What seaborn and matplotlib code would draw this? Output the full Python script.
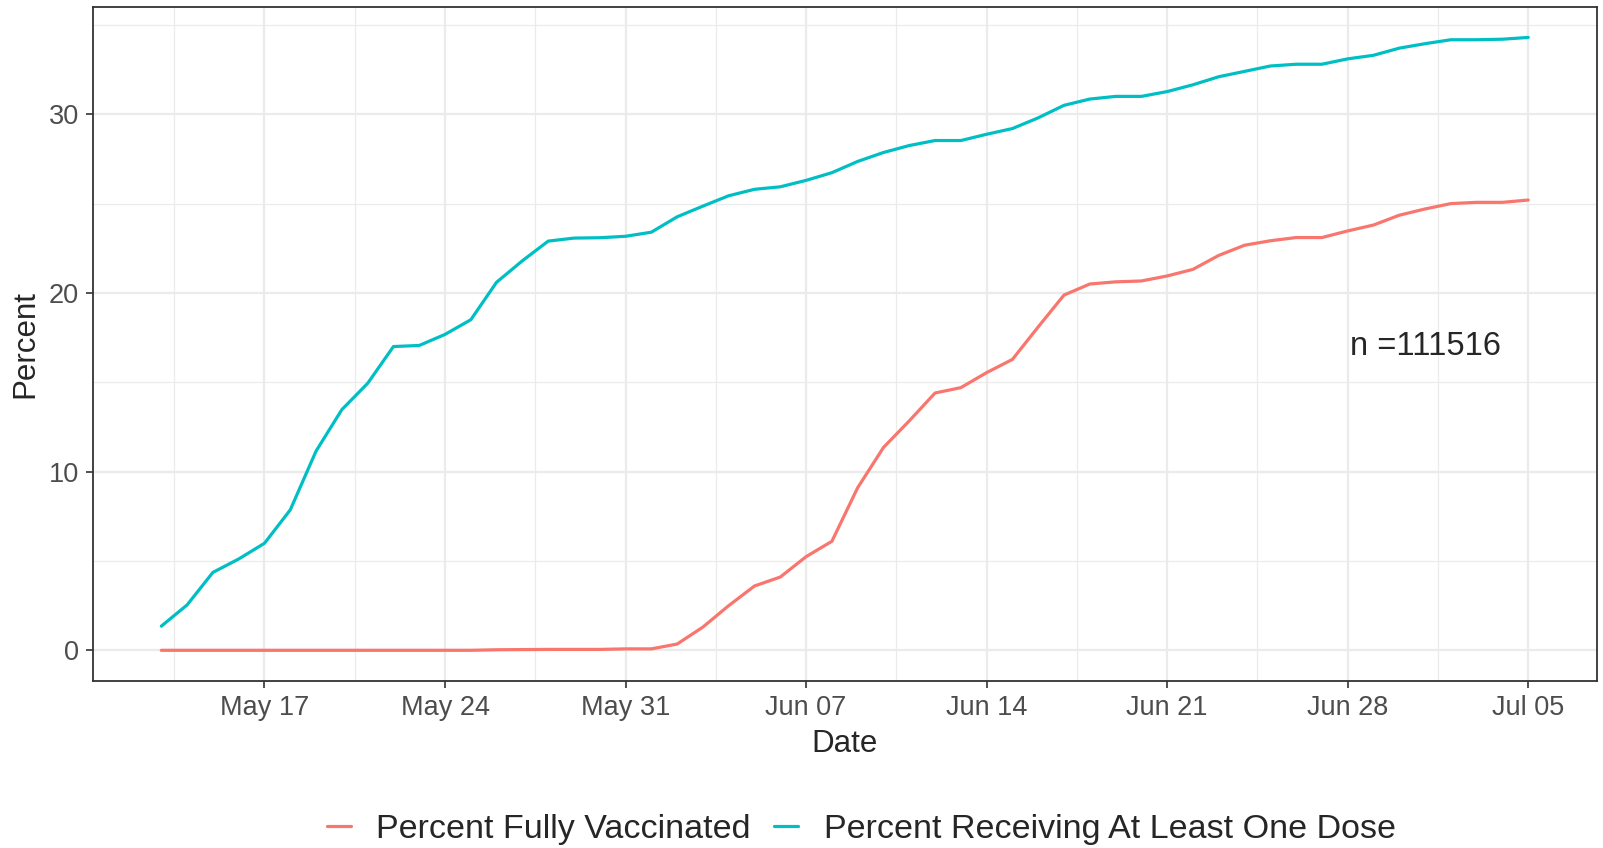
import pandas as pd
import numpy as np
import matplotlib
matplotlib.use("Agg")
import matplotlib.pyplot as plt
import matplotlib.dates as mdates
import seaborn as sns

# Daily values (May 13 - Jul 05)
dates = pd.date_range("2021-05-13", "2021-07-05", freq="D")

fully_vaccinated = [
    0.0, 0.0, 0.0, 0.0, 0.0, 0.0, 0.0, 0.0, 0.0, 0.0, 0.0, 0.0, 0.0, 0.03,
    0.04, 0.05, 0.05, 0.05, 0.08, 0.08, 0.35, 1.3, 2.5, 3.6, 4.1, 5.24,
    6.1, 9.1, 11.35, 12.84, 14.4, 14.7, 15.54, 16.28, 18.1, 19.88, 20.5,
    20.62, 20.67, 20.95, 21.32, 22.1, 22.67, 22.92, 23.1, 23.1, 23.47,
    23.8, 24.35, 24.7, 25.0, 25.07, 25.07, 25.2,
]

at_least_one = [
    1.35, 2.54, 4.36, 5.11, 5.99, 7.86, 11.15, 13.47, 14.94, 17.0, 17.06,
    17.68, 18.5, 20.6, 21.8, 22.9, 23.07, 23.09, 23.17, 23.4, 24.26, 24.86,
    25.44, 25.8, 25.94, 26.3, 26.73, 27.36, 27.86, 28.25, 28.53, 28.53,
    28.88, 29.2, 29.8, 30.5, 30.85, 31.0, 31.0, 31.27, 31.65, 32.1, 32.4,
    32.7, 32.8, 32.8, 33.1, 33.3, 33.7, 33.95, 34.17, 34.17, 34.2, 34.3,
]

series_names = ["Percent Fully Vaccinated", "Percent Receiving At Least One Dose"]
series_colors = ["#F8766D", "#00BFC4"]
n_label = "n =111516"

df = pd.concat([
    pd.DataFrame({"Date": dates, "Percent": fully_vaccinated, "variable": series_names[0]}),
    pd.DataFrame({"Date": dates, "Percent": at_least_one, "variable": series_names[1]}),
])

sns.set_style("white")
plt.rcParams["font.family"] = ["Liberation Sans", "DejaVu Sans"]

fig, ax = plt.subplots(figsize=(16.03, 8.48), dpi=100)
fig.subplots_adjust(left=0.058, right=0.996, top=0.992, bottom=0.197)

sns.lineplot(data=df, x="Date", y="Percent", hue="variable",
             palette=dict(zip(series_names, series_colors)),
             linewidth=2.3, ax=ax)

# ggplot-like expansion of the scales
span = dates[-1] - dates[0]
ax.set_xlim(dates[0] - span * 0.05, dates[-1] + span * 0.05)
ymax = max(max(fully_vaccinated), max(at_least_one))
ax.set_ylim(-ymax * 0.05, ymax * 1.05)

week_breaks = pd.date_range("2021-05-17", "2021-07-05", freq="7D")
ax.set_xticks(week_breaks)
ax.xaxis.set_major_formatter(mdates.DateFormatter("%b %d"))
ax.set_xticks(list(week_breaks - pd.Timedelta(hours=84)), minor=True)
ax.set_yticks([0, 10, 20, 30])
ax.set_yticks([5, 15, 25, 35], minor=True)

ax.grid(True, which="major", color="#EBEBEB", linewidth=1.6)
ax.grid(True, which="minor", color="#EBEBEB", linewidth=0.9)
ax.set_axisbelow(True)
for s in ax.spines.values():
    s.set_color("#333333")
    s.set_linewidth(1.3)

ax.tick_params(axis="both", which="major", length=5, width=1.2, color="#333333",
               labelsize=19.5, labelcolor="#4D4D4D", pad=5, direction="out",
               bottom=True, left=True)
ax.tick_params(axis="both", which="minor", length=0)

ax.set_xlabel("Date", fontsize=22.5, labelpad=6)
ax.set_ylabel("Percent", fontsize=22.5, labelpad=6)

ax.text(pd.Timestamp("2021-07-01"), 17, n_label, fontsize=23.5,
        ha="center", va="center")

handles, labels = ax.get_legend_handles_labels()
ax.legend(handles, labels, loc="center", bbox_to_anchor=(0.511, -0.22),
          ncol=2, frameon=False, fontsize=24.5, handlelength=0.7,
          handletextpad=0.75, columnspacing=0.7, title=None)

fig.savefig("out.png", dpi=100)
